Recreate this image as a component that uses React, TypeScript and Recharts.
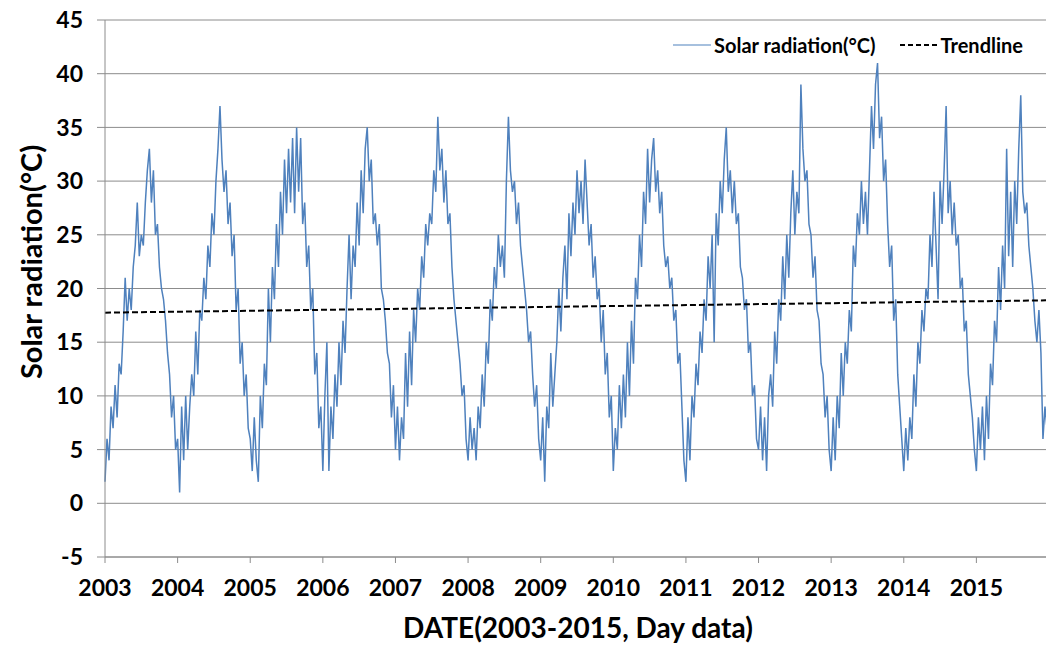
import React from 'react';
import { LineChart, Line, XAxis, YAxis, CartesianGrid, Legend, Label } from 'recharts';

// ~10-day samples per year
const years = [2003, 2004, 2005, 2006, 2007, 2008, 2009, 2010, 2011, 2012, 2013, 2014, 2015];

const y2003 = [2, 6, 4, 9, 7, 11, 8, 13, 12, 16, 21, 17, 20, 18, 22, 24, 28, 23, 25, 24, 28, 31, 33, 28, 31, 25, 26, 22, 20, 19, 17, 14, 12, 8, 10, 5];
const y2004 = [6, 1, 9, 4, 10, 5, 9, 12, 10, 16, 12, 18, 17, 21, 19, 24, 22, 27, 25, 30, 33, 37, 32, 29, 31, 26, 28, 23, 25, 18, 20, 13, 15, 10, 12, 7];
const y2005 = [6, 3, 8, 4, 2, 10, 7, 13, 11, 20, 15, 22, 19, 26, 22, 29, 25, 32, 27, 33, 28, 34, 27, 35, 29, 34, 26, 28, 22, 24, 18, 20, 12, 14, 7, 9];
const y2006 = [3, 10, 15, 3, 9, 6, 12, 9, 15, 11, 17, 14, 20, 25, 19, 24, 22, 28, 24, 31, 27, 33, 35, 30, 32, 26, 27, 24, 26, 20, 19, 17, 14, 13, 8, 11];
const y2007 = [5, 9, 4, 8, 6, 14, 9, 16, 11, 18, 15, 20, 18, 23, 21, 26, 24, 27, 26, 31, 29, 36, 31, 33, 28, 31, 26, 27, 22, 19, 17, 15, 13, 10, 11, 6];
const y2008 = [4, 8, 5, 7, 4, 9, 7, 12, 9, 15, 13, 19, 17, 22, 20, 25, 22, 24, 21, 30, 36, 31, 29, 30, 26, 28, 24, 22, 20, 18, 15, 16, 12, 9, 11, 6];
const y2009 = [4, 8, 2, 9, 7, 14, 9, 12, 15, 20, 16, 21, 24, 19, 27, 23, 28, 25, 31, 27, 30, 26, 32, 28, 24, 26, 21, 23, 19, 20, 15, 18, 12, 14, 8, 10];
const y2010 = [3, 7, 5, 11, 7, 12, 8, 15, 10, 17, 13, 21, 19, 25, 22, 29, 26, 33, 28, 32, 34, 29, 31, 27, 29, 24, 22, 23, 20, 21, 17, 18, 13, 14, 9, 4];
const y2011 = [2, 8, 4, 10, 8, 13, 11, 16, 14, 19, 17, 23, 20, 25, 15, 27, 24, 30, 27, 32, 35, 29, 31, 27, 30, 26, 27, 22, 21, 18, 19, 14, 15, 10, 11, 6];
const y2012 = [5, 9, 4, 8, 3, 10, 12, 9, 16, 13, 19, 17, 23, 19, 25, 21, 27, 31, 25, 29, 27, 39, 33, 30, 31, 26, 25, 21, 23, 18, 17, 13, 12, 8, 10, 5];
const y2013 = [3, 8, 4, 10, 7, 14, 10, 15, 13, 18, 16, 24, 22, 27, 25, 30, 26, 29, 25, 31, 37, 33, 39, 41, 34, 36, 30, 32, 26, 22, 24, 17, 19, 12, 9, 6];
const y2014 = [3, 7, 4, 8, 6, 12, 9, 15, 13, 18, 16, 20, 19, 25, 22, 29, 24, 19, 30, 26, 31, 37, 27, 30, 25, 28, 24, 25, 20, 21, 16, 17, 12, 10, 8, 5];
const y2015 = [3, 8, 5, 9, 4, 10, 6, 13, 11, 17, 15, 22, 18, 24, 20, 33, 23, 29, 22, 30, 26, 33, 38, 29, 27, 28, 24, 22, 20, 17, 15, 18, 14, 6, 9, 7];

const yearly = [y2003, y2004, y2005, y2006, y2007, y2008, y2009, y2010, y2011, y2012, y2013, y2014, y2015];

// linear trend (start / end values)
const trendYears = [2003, 2016];
const trendValues = [17.75, 18.9];

const yTicks = [-5, 0, 5, 10, 15, 20, 25, 30, 35, 40, 45];

const data = years.flatMap((yr, k) =>
  yearly[k].map((v, i) => ({ t: yr + i / yearly[k].length, solar: v }))
);
const trendData = trendYears.map((t, i) => ({ t, trend: trendValues[i] }));

const FONT = 'Lato, "Open Sans", sans-serif';
const BLUE = '#4F81BD';

const LegendBox = () => (
  <div style={{ display: 'flex', alignItems: 'center', fontFamily: FONT, fontWeight: 700, fontSize: 20, color: '#000', whiteSpace: 'nowrap' }}>
    <svg width={38} height={6}>
      <line x1={0} y1={3} x2={38} y2={3} stroke={BLUE} strokeWidth={1.2} />
    </svg>
    <span style={{ marginLeft: 3 }}>Solar radiation(°C)</span>
    <svg width={38} height={6} style={{ marginLeft: 24 }}>
      <line x1={0} y1={3} x2={38} y2={3} stroke="#000" strokeWidth={2} strokeDasharray="5 3" />
    </svg>
    <span style={{ marginLeft: 3 }}>Trendline</span>
  </div>
);

export default function App() {
  return (
    <div style={{ position: 'absolute', left: 0, top: 0, width: 1046, height: 645, overflow: 'hidden', background: '#fff' }}>
      <LineChart width={1049} height={645} margin={{ top: 20, right: 0, bottom: 0, left: 0 }}>
        <CartesianGrid vertical={false} stroke="#8c8c8c" strokeWidth={1} />
        <XAxis
          dataKey="t"
          type="number"
          domain={[2003, 2016]}
          ticks={years}
          allowDuplicatedCategory={false}
          tickFormatter={(v: number) => String(v)}
          height={88}
          stroke="#8c8c8c"
          tickSize={6}
          tickMargin={17}
          tick={{ fill: '#000', fontFamily: FONT, fontWeight: 700, fontSize: 23 }}
        >
          <Label
            content={() => (
              <text
                x={578}
                y={638}
                textAnchor="middle"
                style={{ fill: '#000', fontFamily: FONT, fontWeight: 700, fontSize: 28 }}
              >
                DATE(2003-2015, Day data)
              </text>
            )}
          />
        </XAxis>
        <YAxis
          domain={[-5, 45]}
          ticks={yTicks}
          width={105}
          stroke="#8c8c8c"
          tickSize={8}
          tickMargin={14}
          interval={0}
          tick={{ fill: '#000', fontFamily: FONT, fontWeight: 700, fontSize: 23 }}
        >
          <Label
            content={() => (
              <text
                x={30}
                y={262}
                transform="rotate(-90, 30, 262)"
                textAnchor="middle"
                dominantBaseline="central"
                style={{ fill: '#000', fontFamily: FONT, fontWeight: 700, fontSize: 29 }}
              >
                Solar radiation(°C)
              </text>
            )}
          />
        </YAxis>
        <Legend
          layout="horizontal"
          verticalAlign="middle"
          align="center"
          wrapperStyle={{ top: 33, left: 673, width: 'auto' }}
          content={() => <LegendBox />}
        />
        <Line
          data={data}
          dataKey="solar"
          type="linear"
          stroke={BLUE}
          strokeWidth={1.5}
          dot={false}
          activeDot={false}
          isAnimationActive={false}
        />
        <Line
          data={trendData}
          dataKey="trend"
          type="linear"
          stroke="#000"
          strokeWidth={2}
          strokeDasharray="6 3"
          dot={false}
          activeDot={false}
          isAnimationActive={false}
        />
      </LineChart>
    </div>
  );
}
